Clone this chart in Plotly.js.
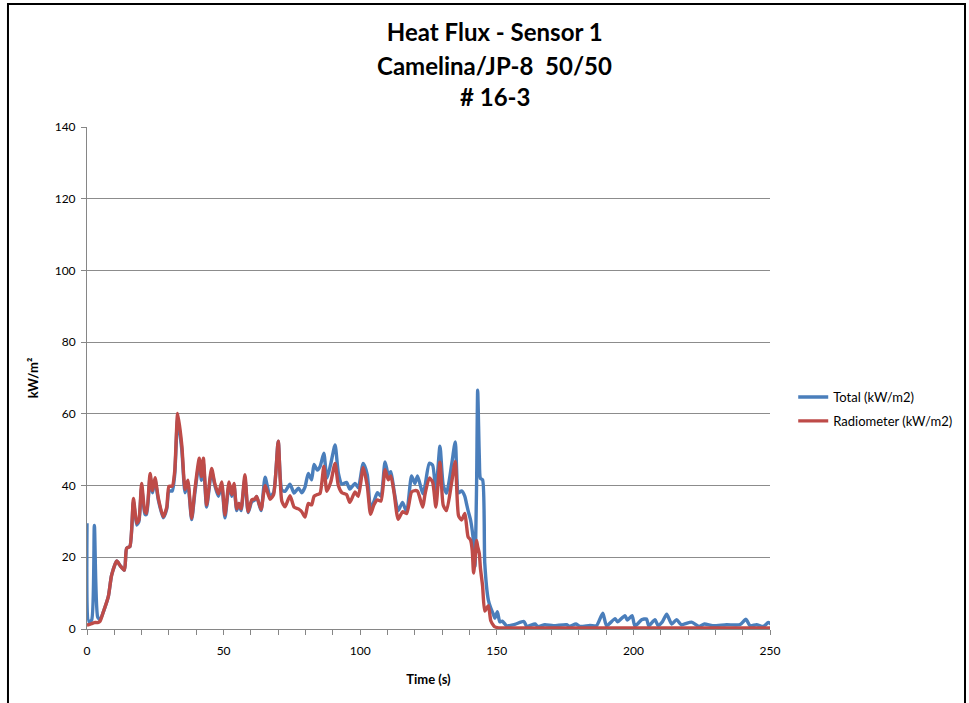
<!DOCTYPE html>
<html><head><meta charset="utf-8">
<script src="https://cdn.plot.ly/plotly-3.0.1.min.js"></script>
<style>html,body{margin:0;padding:0;background:#fff}#chart{width:969px;height:703px}</style>
</head><body><div id="chart"></div>
<script>
const timeS = [0,0.7,1.7,2.7,3.9,4.8,6.0,7.8,9.0,10.9,12.1,13.7,14.5,15.7,17.0,18.2,19.0,20.0,21.2,21.8,23.1,24.0,24.9,26.1,27.9,29.2,30.0,31.2,32.1,33.2,34.7,35.9,36.9,38.3,39.5,41.1,41.9,42.6,43.8,45.6,46.8,48.1,49.3,50.5,52.0,53.0,53.8,54.8,55.6,56.4,57.8,59.0,60.3,61.5,62.1,63.7,65.2,67.0,68.3,70.0,71.3,72.5,74.3,75.8,77.4,78.6,79.8,81.0,82.2,83.1,84.3,85.3,86.7,87.8,89.2,90.8,92.0,93.3,95.0,96.2,98.1,99.3,101.1,102.6,103.8,105.0,106.3,107.6,109.1,110.3,111.2,112.4,113.9,115.5,117.0,118.8,120.0,121.0,122.9,123.7,125.3,126.5,127.7,129.2,130.4,131.6,133.5,134.8,136.0,137.1,138.3,138.9,139.5,140.4,141.0,141.5,142.0,142.6,143.0,143.6,144.0,144.8,145.6,146.9,147.8,148.8,149.3,150.2,151.1,152.0,153.6,156.6,159.9,161.0,164.0,165.0,167.6,170.7,175.6,176.5,179.0,180.5,184.1,186.5,188.8,190.2,193.3,194.2,196.9,197.8,199.5,200.5,201.5,203.0,204.8,205.6,207.9,209.0,210.6,212.2,214.0,215.8,217.5,221.3,224.0,226.0,229.0,234.1,239.0,241.2,242.7,245.1,247.5,249.4,250.5];
const totalFlux = [29.5,2.0,2.5,28.9,3.4,2.6,4.8,9.0,15.0,19.0,17.7,16.4,22.5,23.0,35.5,29.0,30.0,39.5,32.0,32.0,42.5,38.0,41.5,36.0,31.0,33.5,38.5,38.5,43.0,58.5,50.0,38.0,40.5,30.5,38.0,46.5,41.5,46.5,34.0,44.0,40.0,37.0,40.0,31.0,40.0,37.0,40.0,33.0,35.0,33.0,42.0,32.5,35.5,36.0,37.0,33.0,42.3,37.0,38.0,52.4,38.8,38.4,40.4,37.9,39.3,38.0,39.6,43.4,41.6,45.9,44.3,45.3,49.0,42.0,46.0,51.3,43.5,40.4,40.9,39.0,40.6,39.4,46.2,43.0,33.6,35.5,38.0,37.0,46.6,43.0,43.9,38.5,33.0,35.3,32.6,42.7,40.6,42.7,37.7,39.8,46.2,45.7,38.5,51.0,40.1,37.9,46.0,52.2,38.0,38.5,37.0,35.0,33.0,30.4,27.5,24.0,17.4,40.0,66.6,48.0,42.0,41.6,18.3,8.1,5.8,4.0,3.0,4.8,2.0,2.2,0.9,1.3,2.1,0.7,1.4,0.7,1.2,0.9,1.2,0.7,1.4,0.7,1.0,0.9,4.4,0.9,2.9,2.0,3.7,2.5,3.7,0.9,1.4,2.6,2.8,0.9,2.6,1.0,2.0,4.1,1.4,2.6,1.2,1.9,0.7,1.4,0.9,1.2,1.2,2.7,0.9,1.2,0.7,1.8,1.3];
const radiometerFlux = [1.1,1.2,1.5,1.8,1.8,2.2,4.8,9.0,15.0,19.0,17.7,16.4,22.5,23.0,36.4,29.5,30.5,40.6,32.7,32.3,43.4,38.6,42.2,36.5,31.3,34.0,39.8,39.8,44.0,60.1,51.3,38.9,41.5,30.9,39.0,47.6,42.5,47.6,34.6,44.8,40.5,37.7,41.0,31.8,41.0,37.5,40.6,33.5,35.0,33.5,43.0,32.7,36.0,36.3,37.0,33.3,40.0,36.2,37.5,52.4,35.7,34.1,37.2,34.0,33.5,32.7,31.2,35.0,34.6,37.0,37.5,37.8,45.3,38.4,40.9,46.2,40.0,38.0,37.5,35.3,38.2,37.0,45.0,39.8,32.0,34.6,36.0,35.7,44.4,41.6,42.7,38.0,30.6,32.7,32.2,38.2,38.6,38.4,34.0,37.5,42.1,41.0,34.0,46.5,34.5,33.0,41.0,46.7,31.6,30.4,32.2,29.0,25.7,24.8,22.0,15.6,19.0,24.7,23.0,21.0,17.0,12.0,5.0,6.5,2.3,1.0,0.6,0.4,0.3,0.3,0.3,0.3,0.3,0.3,0.3,0.3,0.3,0.3,0.3,0.3,0.3,0.3,0.3,0.3,0.3,0.3,0.3,0.3,0.3,0.3,0.3,0.3,0.3,0.3,0.3,0.3,0.3,0.3,0.3,0.3,0.3,0.3,0.3,0.3,0.3,0.3,0.3,0.3,0.3,0.3,0.3,0.3,0.3,0.3,0.3];
const seriesNames = ['Total (kW/m2)', 'Radiometer (kW/m2)'];
const titleLines = ['Heat Flux - Sensor 1', 'Camelina/JP-8  50/50', '# 16-3'];
const xTickVals = [0, 50, 100, 150, 200, 250];
const yTickVals = [0, 20, 40, 60, 80, 100, 120, 140];

const FONT = 'Lato, "Open Sans", sans-serif';
const traces = [
  {x: timeS, y: totalFlux, name: seriesNames[0], type: 'scatter', mode: 'lines', legendgroup: 'a',
   line: {color: '#4A7EBB', width: 3.4, shape: 'spline', smoothing: 0.6}},
  {x: timeS, y: radiometerFlux, name: seriesNames[1], type: 'scatter', mode: 'lines', legendgroup: 'b',
   line: {color: '#BE4B48', width: 3.4, shape: 'spline', smoothing: 0.6}}
];
const layout = {
  width: 969, height: 703,
  margin: {l: 87, r: 199, t: 127, b: 74},
  paper_bgcolor: '#fff', plot_bgcolor: '#fff',
  font: {family: FONT, color: '#000', size: 12},
  title: {text: '<b>' + titleLines[0] + '</b>', font: {family: FONT, size: 24, color: '#000'},
          xref: 'paper', x: 0.597, xanchor: 'center', yref: 'container', y: 0.953, yanchor: 'middle'},
  annotations: [
    {text: '<b>' + titleLines[1] + '</b>', xref: 'paper', yref: 'paper', x: 0.597, y: 1.1235, xanchor: 'center', yanchor: 'middle', showarrow: false, font: {family: FONT, size: 24, color: '#000'}},
    {text: '<b>' + titleLines[2] + '</b>', xref: 'paper', yref: 'paper', x: 0.597, y: 1.0598, xanchor: 'center', yanchor: 'middle', showarrow: false, font: {family: FONT, size: 24, color: '#000'}}
  ],
  xaxis: {range: [0, 250], tickvals: xTickVals, ticks: 'outside', ticklen: 5, tickcolor: '#868686',
          showline: true, linecolor: '#868686', linewidth: 1, showgrid: false, zeroline: false,
          ticklabelstandoff: 6,
          tickfont: {family: FONT, size: 12, color: '#000'},
          minor: {dtick: 10, ticks: 'outside', ticklen: 5, tickcolor: '#868686', showgrid: false},
          title: {text: '<b>Time (s)</b>', font: {family: FONT, size: 13, color: '#000'}, standoff: 17}},
  yaxis: {range: [0, 140], tickvals: yTickVals, ticks: 'outside', ticklen: 5, tickcolor: '#868686',
          showline: true, linecolor: '#868686', linewidth: 1, showgrid: true, gridcolor: '#8c8c8c', gridwidth: 1,
          zeroline: false, ticklabelstandoff: 3, tickfont: {family: FONT, size: 12, color: '#000'},
          title: {text: '<b>kW/m²</b>', font: {family: FONT, size: 13, color: '#000'}, standoff: 13}},
  legend: {x: 1.034, xanchor: 'left', y: 0.492, yanchor: 'top', traceorder: 'grouped', tracegroupgap: 4,
           font: {family: FONT, size: 13, color: '#000'}, bgcolor: 'rgba(0,0,0,0)'},
  shapes: [
    {type: 'rect', xref: 'paper', yref: 'paper', x0: -0.1157, x1: 1.2855, y0: -0.17, y1: 1.245,
     line: {color: '#000', width: 2}, fillcolor: 'rgba(0,0,0,0)', layer: 'below'}
  ],
  showlegend: true
};
Plotly.newPlot('chart', traces, layout, {displayModeBar: false, staticPlot: true});
</script>
</body></html>
